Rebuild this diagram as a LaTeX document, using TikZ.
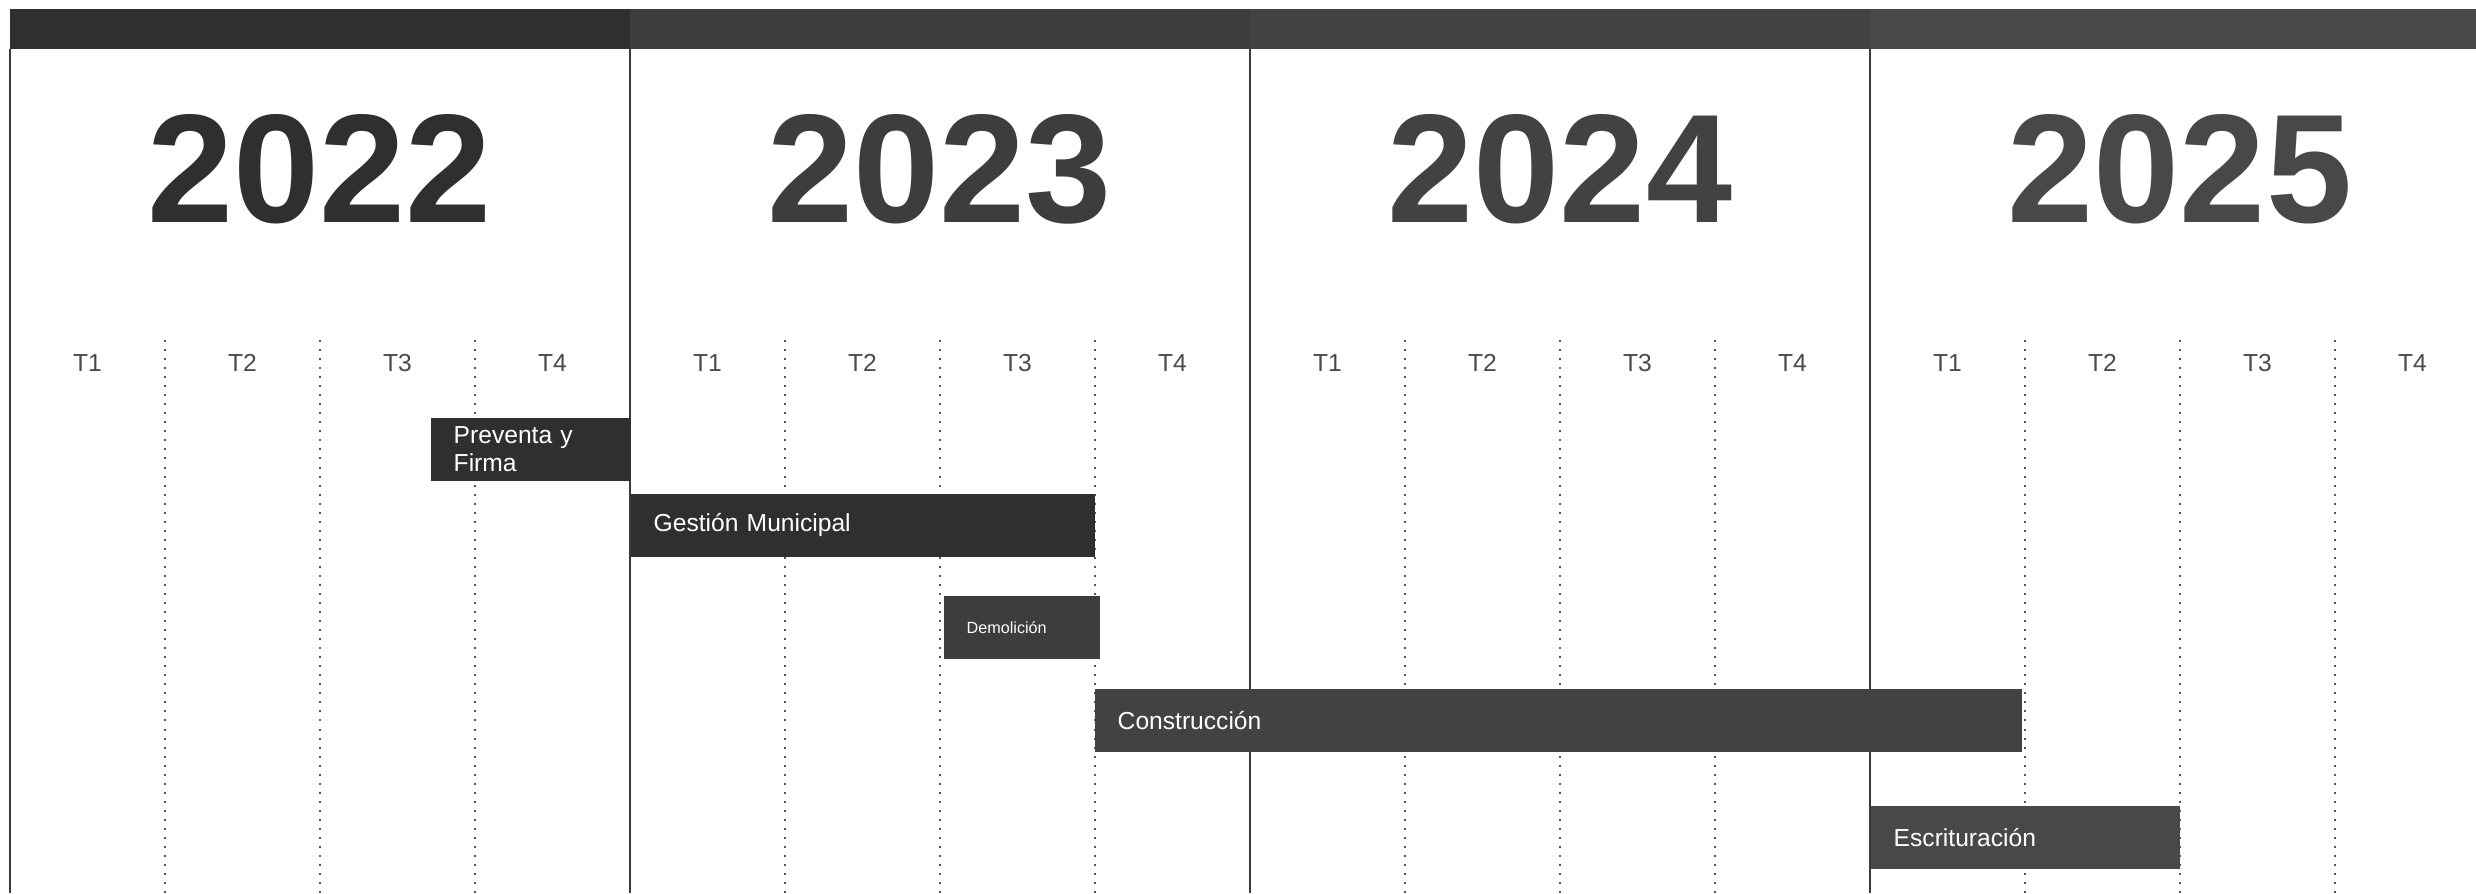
\documentclass[tikz,border=0pt]{standalone}
\usepackage{fontspec}
\setmainfont{Liberation Sans}
\definecolor{yrA}{HTML}{2F2F2F}
\definecolor{yrB}{HTML}{3D3D3D}
\definecolor{yrC}{HTML}{424242}
\definecolor{yrD}{HTML}{484848}
\definecolor{linegray}{HTML}{3A3A3A}
\definecolor{dotgray}{HTML}{555555}
\definecolor{qgray}{HTML}{4A4A4A}
\tikzset{
  bar/.style={fill=#1, text=white, anchor=north west, minimum height=0.63cm,
    inner xsep=0.23cm, inner ysep=0pt, align=left, font=\fontsize{7}{7.8}\selectfont},
  quarter/.style={text=qgray, font=\fontsize{7}{8}\selectfont},
  yearlabel/.style={font=\fontsize{44}{44}\selectfont\bfseries}
}
\begin{document}
\begin{tikzpicture}[x=0.01cm,y=-0.01cm]
\useasboundingbox (0,0) rectangle (2476,893);
% years, header and quarter grid
\foreach \i/\yr/\col in {0/2022/yrA,1/2023/yrB,2/2024/yrC,3/2025/yrD} {
  \fill[\col] (10+620*\i,9) rectangle (630+620*\i,49);
  \node[yearlabel,text=\col] (y\yr) at (320+620*\i,169) {\yr};
  \draw[line width=0.02cm,linegray] (10+620*\i,49) -- (10+620*\i,893);
  \foreach \q in {1,2,3}
    \draw[dotted,line width=0.02cm,dotgray] (10+620*\i+155*\q,340) -- (10+620*\i+155*\q,893);
  \foreach \q in {1,...,4}
    \node[quarter] (q\yr\q) at (10+620*\i+155*\q-77.5,363) {T\q};
}
% tasks
\node[bar=yrA, text width=1.545cm] (preventa) at (430,417) {Preventa y\\Firma};
\node[bar=yrA, text width=4.18cm] (gestion) at (630,493) {Gestión Municipal};
\node[bar=yrB, text width=1.10cm, font=\fontsize{4.6}{5.5}\selectfont] (demolicion) at (943,595) {Demolición};
\node[bar=yrC, text width=8.81cm] (construccion) at (1094,688) {Construcción};
\node[bar=yrD, text width=2.63cm] (escrituracion) at (1870,805) {Escrituración};
\end{tikzpicture}
\end{document}
